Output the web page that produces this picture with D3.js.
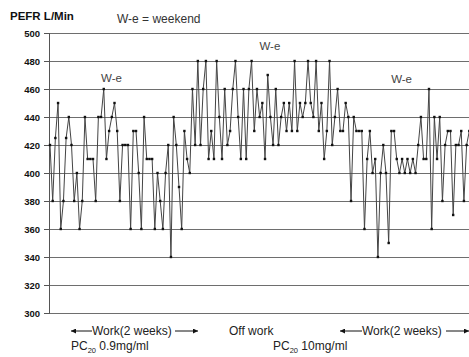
<!DOCTYPE html>
<html><head><meta charset="utf-8">
<script src="https://cdn.jsdelivr.net/npm/d3@7"></script>
<style>body{margin:0;background:#fff}svg{display:block;font-family:"Liberation Sans",Arial,sans-serif}</style>
</head><body><svg id="c" width="469" height="357"></svg>
<script>
const yTicks = [300,320,340,360,380,400,420,440,460,480,500];
const pefr = [420,380,425,450,360,380,425,440,420,380,
400,360,380,440,410,410,410,380,440,440,
460,410,430,440,450,430,380,420,420,420,
360,430,430,400,360,440,410,410,410,360,
400,380,360,400,420,340,440,420,390,360,
430,410,400,460,420,480,420,460,480,410,
430,410,480,440,410,460,420,430,460,480,
440,410,460,410,460,480,430,460,440,450,
410,470,440,420,460,420,440,450,430,450,
430,480,430,450,440,450,480,450,440,480,
430,450,410,430,480,420,440,460,430,430,
450,440,380,440,430,430,430,360,410,430,
400,410,340,400,420,400,350,430,430,410,
400,410,400,410,400,410,400,420,440,410,
410,460,360,440,410,440,380,420,430,430,
370,420,420,430,380,420,430];
const weekendLabels = [{i:22.9, v:465, t:"W-e"},{i:81.8, v:488, t:"W-e"},{i:130.8, v:464, t:"W-e"}];

const svg = d3.select("#c");
const x = d3.scaleLinear().domain([0, pefr.length-1]).range([50, 469.3]);
const y = d3.scaleLinear().domain([300,500]).range([313,33]);

// gridlines
svg.append("g").selectAll("line").data(yTicks).join("line")
  .attr("x1",49).attr("x2",469).attr("y1",d=>y(d)).attr("y2",d=>y(d))
  .attr("stroke","#6e6e6e").attr("stroke-width",1).attr("shape-rendering","crispEdges");

// y axis
const yAxis = d3.axisLeft(y).tickValues(yTicks).tickSize(5).tickPadding(4);
const ga = svg.append("g").attr("transform","translate(49,0)").call(yAxis);
ga.select(".domain").attr("stroke","#555").attr("shape-rendering","crispEdges");
ga.selectAll(".tick line").attr("stroke","#555").attr("shape-rendering","crispEdges");
ga.selectAll(".tick text").attr("font-size",9.5).attr("font-weight","bold").attr("fill","#111")
  .attr("font-family","'Liberation Sans',Arial,sans-serif");

// line
const line = d3.line().x((d,i)=>x(i)).y(d=>y(d));
svg.append("path").datum(pefr).attr("d",line).attr("fill","none")
  .attr("stroke","#444").attr("stroke-width",1);
svg.append("g").selectAll("rect").data(pefr).join("rect")
  .attr("x",(d,i)=>x(i)-1.2).attr("y",d=>y(d)-1.2).attr("width",2.4).attr("height",2.4)
  .attr("fill","#111");

// titles
svg.append("text").attr("x",10).attr("y",19.5).attr("font-size",11.5).attr("font-weight","bold")
  .attr("fill","#111").text("PEFR L/Min");
svg.append("text").attr("x",117).attr("y",23).attr("font-size",12)
  .attr("fill","#333").text("W-e = weekend");

svg.append("g").selectAll("text").data(weekendLabels).join("text")
  .attr("x",d=>x(d.i)).attr("y",d=>y(d.v)).attr("text-anchor","middle")
  .attr("font-size",11.5).attr("fill","#444").text(d=>d.t);

// arrows
const defs = svg.append("defs");
defs.append("marker").attr("id","ah").attr("viewBox","0 0 10 10").attr("refX",10).attr("refY",5)
  .attr("markerWidth",6).attr("markerHeight",5).attr("markerUnits","userSpaceOnUse").attr("orient","auto")
  .append("path").attr("d","M0,0L10,5L0,10z").attr("fill","#111");
const arrowY = 331;
const segs = [[92,71],[175,198],[362,340],[446,469]];
svg.append("g").selectAll("line").data(segs).join("line")
  .attr("x1",d=>d[0]).attr("x2",d=>d[1]).attr("y1",arrowY).attr("y2",arrowY)
  .attr("stroke","#111").attr("stroke-width",1).attr("marker-end","url(#ah)");

const bottom = svg.append("g").attr("font-size",12).attr("fill","#222");
bottom.append("text").attr("x",92).attr("y",335).text("Work(2 weeks)");
bottom.append("text").attr("x",229).attr("y",335).text("Off work");
bottom.append("text").attr("x",362).attr("y",335).text("Work(2 weeks)");

function pc(xp, rest){
  const t = bottom.append("text").attr("x",xp).attr("y",350);
  t.append("tspan").text("PC");
  t.append("tspan").attr("font-size",7.5).attr("dy",2.5).text("20");
  t.append("tspan").attr("dy",-2.5).text(" "+rest);
}
pc(71,"0.9mg/ml");
pc(273,"10mg/ml");
</script></body></html>
